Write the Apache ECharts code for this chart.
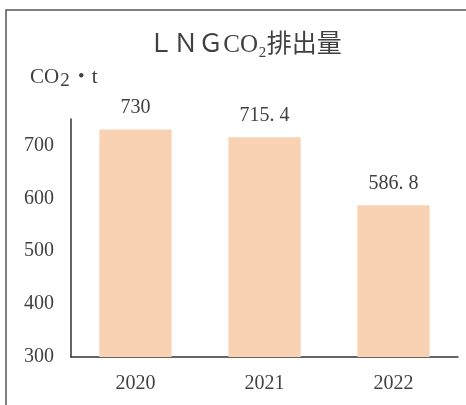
<!DOCTYPE html>
<html>
<head>
<meta charset="utf-8">
<script src="https://cdn.jsdelivr.net/npm/echarts@6/dist/echarts.min.js"></script>
<style>
  html, body { margin: 0; padding: 0; background: #fff; }
  #chart { width: 466px; height: 405px; }
</style>
</head>
<body>
<div id="chart"></div>
<script>
// データ
const years = ["2020", "2021", "2022"];
const emissions = [730, 715.4, 586.8];
const yTicks = [300, 400, 500, 600, 700];

const FONT = "'Liberation Serif', 'Noto Sans CJK JP', serif";
const TEXT = "#404040";

const chart = echarts.init(document.getElementById("chart"));

const option = {
  backgroundColor: "#fff",
  animation: false,
  title: {
    text: "ＬＮＧCO₂排出量",
    left: 240,
    textAlign: "center",
    top: 28,
    textStyle: { fontFamily: FONT, fontSize: 25, fontWeight: "normal", color: TEXT }
  },
  graphic: [
    // 外枠（上と左のみ見える）
    {
      type: "rect",
      shape: { x: 6, y: 10, width: 520, height: 460 },
      style: { fill: "none", stroke: "#555", lineWidth: 1.5 }
    },
    {
      type: "text",
      left: 30,
      top: 63,
      style: {
        text: "{a|CO}{s|2}{a|・t}",
        rich: {
          a: { fontFamily: FONT, fontSize: 21, fill: TEXT, lineHeight: 24 },
          s: { fontFamily: FONT, fontSize: 19, fill: TEXT, lineHeight: 24, padding: [9, 1, 0, 1] }
        }
      }
    }
  ],
  grid: { left: 71, right: 8, top: 119, bottom: 48 },
  xAxis: {
    type: "category",
    data: years,
    axisTick: { show: false },
    axisLine: { lineStyle: { color: "#333", width: 1.5 } },
    axisLabel: { fontFamily: FONT, fontSize: 20, color: TEXT, margin: 17 }
  },
  yAxis: {
    type: "value",
    min: yTicks[0],
    max: 750,
    interval: 100,
    splitLine: { show: false },
    axisTick: { show: false },
    axisLine: { show: true, lineStyle: { color: "#333", width: 1.5 } },
    axisLabel: {
      fontFamily: FONT, fontSize: 20, color: TEXT, margin: 17,
      formatter: v => (yTicks.includes(v) ? String(v) : "")
    }
  },
  series: [
    {
      type: "bar",
      data: emissions,
      barWidth: "56%",
      itemStyle: { color: "#F8D2B2" },
      label: {
        show: true,
        position: "top",
        distance: 12,
        fontFamily: FONT,
        fontSize: 20,
        color: TEXT,
        formatter: p => String(p.value).replace(".", ". ")
      }
    }
  ]
};

chart.setOption(option);
</script>
</body>
</html>
